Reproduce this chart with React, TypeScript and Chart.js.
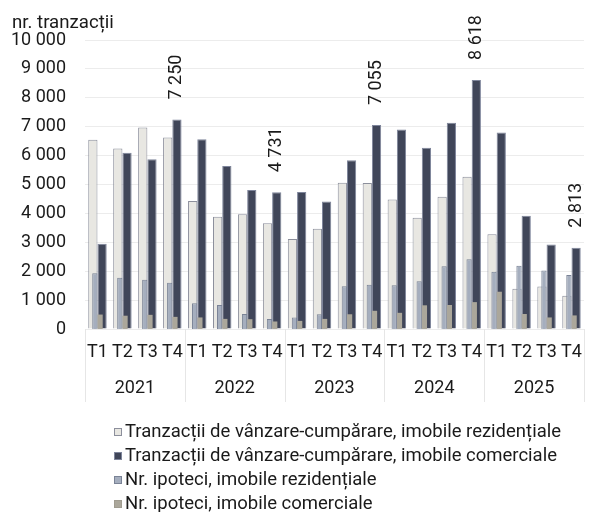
import { useEffect, useRef } from 'react';
import { Chart, registerables } from 'chart.js';

Chart.register(...registerables);

const quarterLabels = [
  'T1', 'T2', 'T3', 'T4',
  'T1', 'T2', 'T3', 'T4',
  'T1', 'T2', 'T3', 'T4',
  'T1', 'T2', 'T3', 'T4',
  'T1', 'T2', 'T3', 'T4',
];
const years = ['2021', '2022', '2023', '2024', '2025'];

const seriesNames = [
  'Tranzacții de vânzare-cumpărare, imobile rezidențiale',
  'Tranzacții de vânzare-cumpărare, imobile comerciale',
  'Nr. ipoteci, imobile rezidențiale',
  'Nr. ipoteci, imobile comerciale',
];

const resTrans = [6550, 6250, 6970, 6630, 4430, 3880, 3970, 3660, 3110, 3470, 5060, 5050, 4480, 3850, 4580, 5270, 3280, 1390, 1470, 1150];
const comTrans = [2950, 6100, 5870, 7250, 6570, 5640, 4810, 4731, 4740, 4410, 5840, 7055, 6900, 6270, 7140, 8618, 6800, 3920, 2920, 2813];
const resMort = [1930, 1770, 1700, 1600, 890, 830, 520, 350, 400, 510, 1480, 1530, 1510, 1650, 2170, 2410, 1980, 2190, 2020, 1870];
const comMort = [500, 460, 490, 420, 400, 350, 340, 260, 280, 350, 510, 630, 560, 820, 830, 930, 1290, 520, 400, 470];

const labeledIdx = [3, 7, 11, 15, 19];

const yTitle = 'nr. tranzacții';

const fillColors = ['#E8E7E2', '#404659', '#A5AEBE', '#ABA79B'];
const borderColors = ['#8C8F9C', '#7E859B', '#7A8396', '#A09C90'];

const FONT = 'Roboto, "Noto Sans", sans-serif';
const TEXT = '#1a1a1a';

function fmt(v: number): string {
  return String(v).replace(/\B(?=(\d{3})+(?!\d))/g, ' ');
}

const decorPlugin = {
  id: 'decor',
  afterDraw(chart: any) {
    const ctx = chart.ctx as CanvasRenderingContext2D;
    const area = chart.chartArea;
    ctx.save();

    // title
    ctx.fillStyle = TEXT;
    ctx.font = `18.67px ${FONT}`;
    ctx.textAlign = 'left';
    ctx.textBaseline = 'alphabetic';
    ctx.fillText(yTitle, 12, 28);

    // year separators and labels
    const xScale = chart.scales.x;
    const n = years.length;
    const per = quarterLabels.length / n;
    const step = xScale.getPixelForValue(1) - xScale.getPixelForValue(0);
    ctx.strokeStyle = '#e6e6e6';
    ctx.lineWidth = 1;
    for (let i = 0; i <= n; i++) {
      const px = i < n
        ? xScale.getPixelForValue(i * per) - step / 2
        : xScale.getPixelForValue(n * per - 1) + step / 2;
      const xx = Math.round(px) + 0.5;
      ctx.beginPath();
      ctx.moveTo(xx, area.bottom);
      ctx.lineTo(xx, area.bottom + 73);
      ctx.stroke();
    }
    ctx.fillStyle = TEXT;
    ctx.font = `18px ${FONT}`;
    ctx.textAlign = 'center';
    ctx.textBaseline = 'middle';
    for (let i = 0; i < n; i++) {
      const a = xScale.getPixelForValue(i * per);
      const b = xScale.getPixelForValue(i * per + per - 1);
      ctx.fillText(years[i], (a + b) / 2, area.bottom + 59);
    }

    // data labels
    const meta = chart.getDatasetMeta(1);
    ctx.font = `18px ${FONT}`;
    ctx.textAlign = 'left';
    ctx.textBaseline = 'middle';
    labeledIdx.forEach((i) => {
      const el = meta.data[i];
      ctx.save();
      ctx.translate(el.x, el.y - 20);
      ctx.rotate(-Math.PI / 2);
      ctx.fillText(fmt(comTrans[i]), 0, 0);
      ctx.restore();
    });

    // legend
    ctx.font = `18.5px ${FONT}`;
    ctx.textAlign = 'left';
    ctx.textBaseline = 'middle';
    const lx = 114;
    const ly0 = 432;
    seriesNames.forEach((name, i) => {
      const cy = ly0 + i * 24;
      ctx.fillStyle = fillColors[i];
      ctx.fillRect(lx, cy - 4, 8, 8);
      ctx.strokeStyle = borderColors[i];
      ctx.lineWidth = 1;
      ctx.strokeRect(lx + 0.5, cy - 3.5, 7, 7);
      ctx.fillStyle = TEXT;
      ctx.fillText(name, lx + 11, cy);
    });

    ctx.restore();
  },
};

function makeOptions(visible: boolean): any {
  const tickColor = visible ? TEXT : 'rgba(0,0,0,0)';
  return {
    animation: false,
    responsive: false,
    maintainAspectRatio: false,
    layout: { padding: { left: 12, right: 3, top: 40, bottom: 110 } },
    plugins: {
      legend: { display: false },
      tooltip: { enabled: false },
      title: { display: false },
    },
    scales: {
      x: {
        type: 'category',
        offset: true,
        grid: { display: false, drawTicks: false },
        border: { display: false },
        ticks: {
          padding: 13,
          color: tickColor,
          font: { family: FONT, size: 18 },
          maxRotation: 0,
          autoSkip: false,
        },
        afterFit: (s: any) => { s.height = 73; },
      },
      y: {
        min: 0,
        max: 10000,
        ticks: {
          stepSize: 1000,
          padding: 19,
          color: tickColor,
          font: { family: FONT, size: 18 },
          callback: (v: any) => fmt(Number(v)),
        },
        grid: { display: visible, color: '#ececec', drawTicks: false },
        border: { display: false },
        afterFit: (s: any) => { s.width = 73; },
      },
    },
  };
}

export default function App() {
  const baseRef = useRef<HTMLCanvasElement>(null);
  const topRef = useRef<HTMLCanvasElement>(null);
  useEffect(() => {
    const c1 = baseRef.current;
    const c2 = topRef.current;
    if (!c1 || !c2) return;
    const transactions = new Chart(c1, {
      type: 'bar',
      data: {
        labels: quarterLabels,
        datasets: [
          {
            label: seriesNames[0], data: resTrans,
            backgroundColor: fillColors[0], borderColor: borderColors[0], borderWidth: 1,
            categoryPercentage: 0.74, barPercentage: 1,
          },
          {
            label: seriesNames[1], data: comTrans,
            backgroundColor: fillColors[1], borderColor: borderColors[1], borderWidth: 1,
            categoryPercentage: 0.74, barPercentage: 1,
          },
        ],
      } as any,
      options: makeOptions(true),
      plugins: [decorPlugin],
    });
    const mortgages = new Chart(c2, {
      type: 'bar',
      data: {
        labels: quarterLabels,
        datasets: [
          {
            label: seriesNames[2], data: resMort,
            backgroundColor: fillColors[2], borderColor: borderColors[2], borderWidth: 1,
            categoryPercentage: 0.42, barPercentage: 1,
          },
          {
            label: seriesNames[3], data: comMort,
            backgroundColor: fillColors[3], borderColor: borderColors[3], borderWidth: 0,
            categoryPercentage: 0.42, barPercentage: 1,
          },
        ],
      } as any,
      options: makeOptions(false),
    });
    return () => {
      mortgages.destroy();
      transactions.destroy();
    };
  }, []);
  const canvasStyle: any = { position: 'absolute', left: 0, top: 0, width: 595, height: 512, display: 'block' };
  return (
    <div style={{ position: 'fixed', left: 0, top: 0, width: 595, height: 512, background: '#fff' }}>
      <canvas ref={baseRef} width={595} height={512} style={canvasStyle} />
      <canvas ref={topRef} width={595} height={512} style={canvasStyle} />
    </div>
  );
}
